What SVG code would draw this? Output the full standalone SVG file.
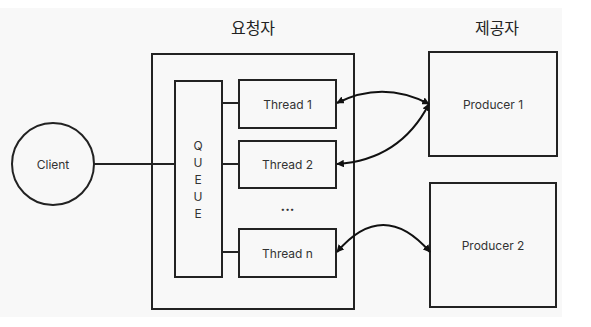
<svg xmlns="http://www.w3.org/2000/svg" width="591" height="327" viewBox="0 0 591 327">
<defs>
<marker id="ah" viewBox="0 0 10 10" refX="9" refY="5" markerWidth="3.8" markerHeight="3.8" orient="auto-start-reverse" markerUnits="strokeWidth">
<path d="M0,0 L10,5 L0,10 Z" fill="#111"/>
</marker>
<style>
.box{fill:none;stroke:#222;stroke-width:2}
.t{font-family:Inter,"Noto Sans","Liberation Sans",sans-serif;font-size:12px;fill:#333;text-anchor:middle;dominant-baseline:central}
.h{font-family:"Noto Sans CJK KR","Noto Sans",sans-serif;font-size:16px;fill:#222;text-anchor:middle}
.ln{fill:none;stroke:#222;stroke-width:2}
.arr{fill:none;stroke:#111;stroke-width:2;marker-start:url(#ah);marker-end:url(#ah)}
</style>
</defs>
<rect x="0" y="0" width="591" height="327" fill="#fff"/>
<rect x="0" y="8" width="562" height="309" fill="#f8f8f8"/>
<text class="h" x="253" y="34">요청자</text>
<text class="h" x="497" y="34">제공자</text>
<g id="requester"><rect class="box" x="152" y="54" width="202" height="255"/></g>
<g id="client"><circle class="box" cx="53" cy="164" r="41"/><text class="t" x="53" y="164">Client</text></g>
<g id="queue"><rect class="box" x="175" y="81" width="47" height="196"/>
<text class="t" x="198" y="145">Q</text><text class="t" x="198" y="162">U</text><text class="t" x="198" y="179">E</text><text class="t" x="198" y="196">U</text><text class="t" x="198" y="213">E</text></g>
<g id="thread1"><rect class="box" x="239" y="80" width="97" height="48"/><text class="t" x="287.5" y="104">Thread 1</text></g>
<g id="thread2"><rect class="box" x="239" y="141" width="97" height="47"/><text class="t" x="287.5" y="164.5">Thread 2</text></g>
<g id="dots"><text class="t" x="287.5" y="205" style="font-size:14px;font-weight:bold">...</text></g>
<g id="threadn"><rect class="box" x="239" y="229" width="97" height="48"/><text class="t" x="287.5" y="253">Thread n</text></g>
<g id="producer1"><rect class="box" x="429" y="52" width="128" height="104"/><text class="t" x="493" y="104">Producer 1</text></g>
<g id="producer2"><rect class="box" x="430" y="183" width="126" height="124"/><text class="t" x="493" y="245">Producer 2</text></g>
<g id="connectors">
<line class="ln" x1="94" y1="164" x2="175" y2="164"/>
<line class="ln" x1="222" y1="103" x2="239" y2="103"/>
<line class="ln" x1="222" y1="164" x2="239" y2="164"/>
<line class="ln" x1="222" y1="252" x2="239" y2="252"/>
<path class="arr" d="M337,103 Q383,80 429,104"/>
<path class="arr" d="M337,164 Q400,160 429,104"/>
<path class="arr" d="M337,252 Q383,198 430,252"/>
</g>
</svg>
